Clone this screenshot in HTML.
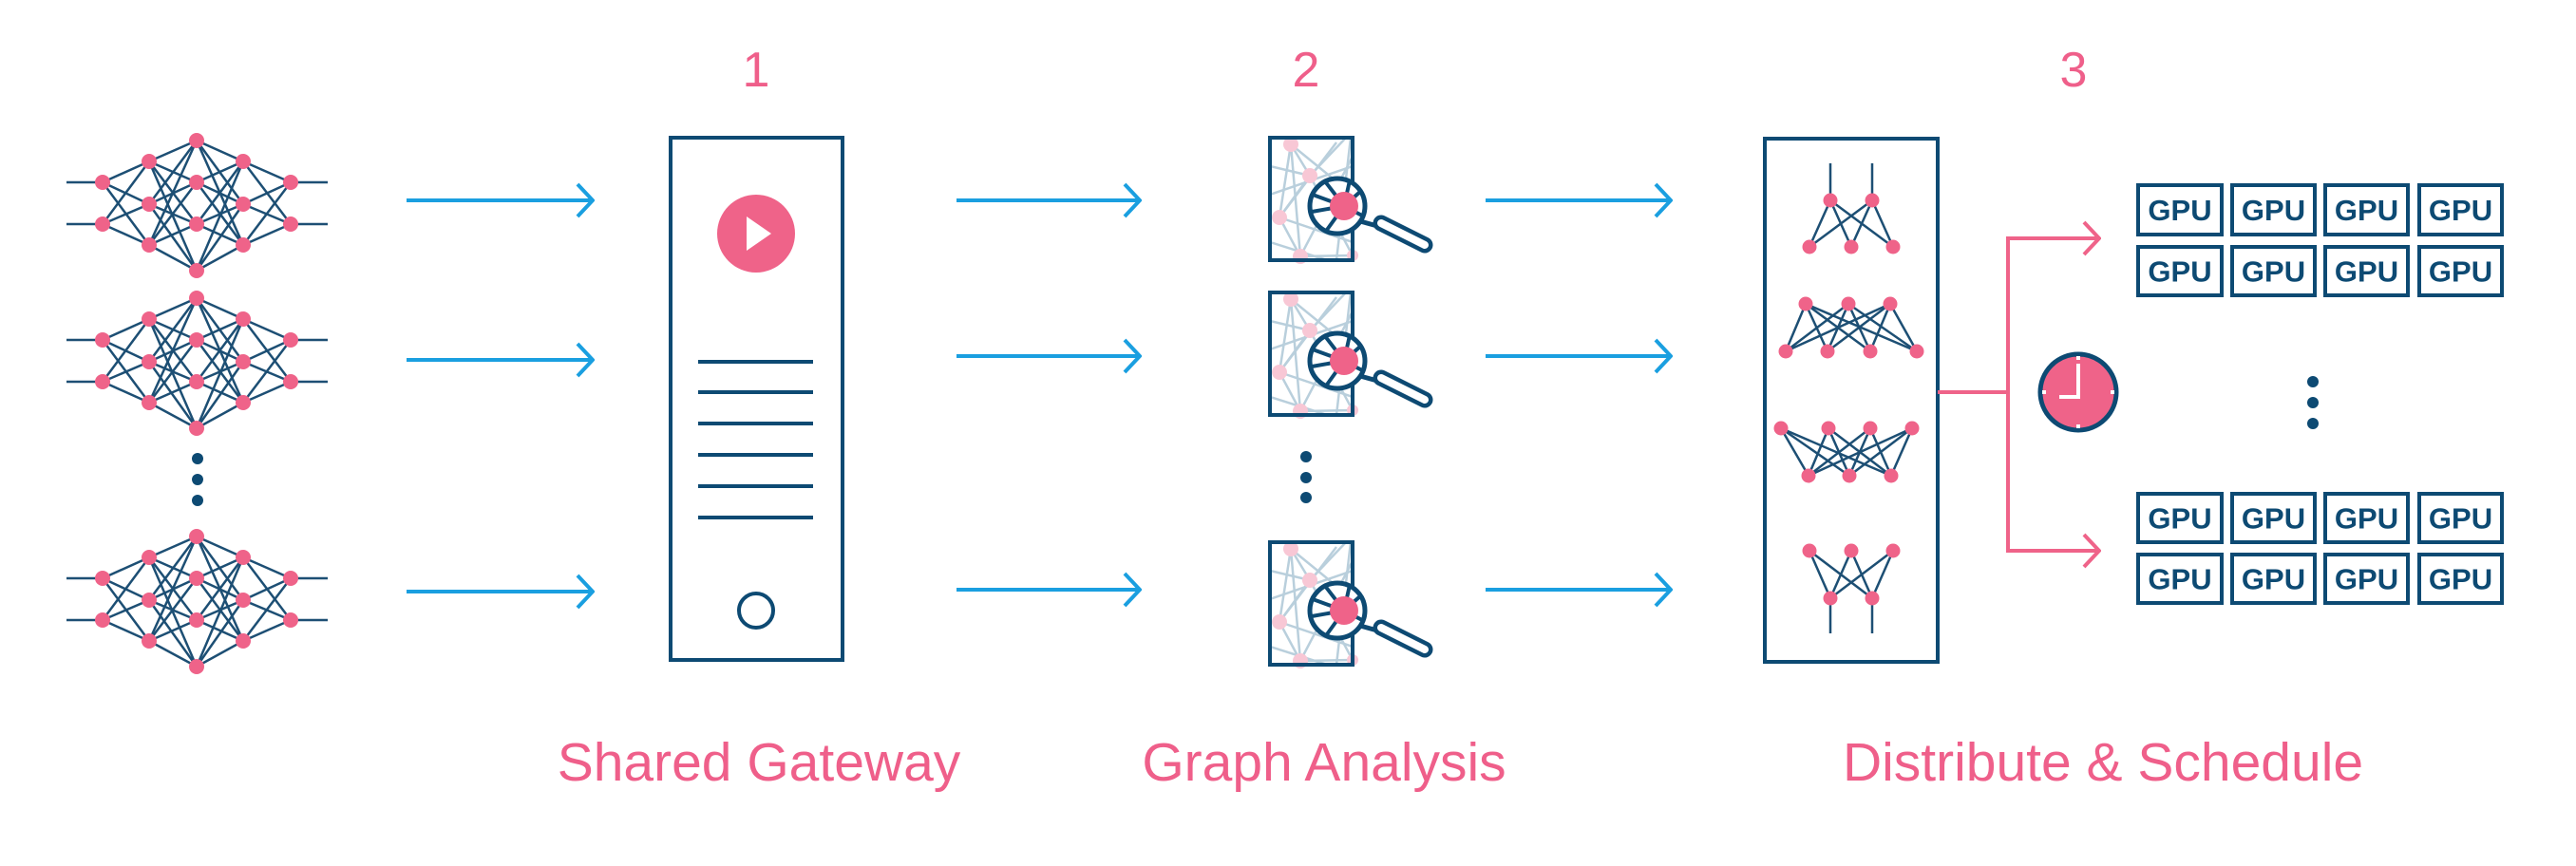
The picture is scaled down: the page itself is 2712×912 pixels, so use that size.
<!DOCTYPE html>
<html><head><meta charset="utf-8"><style>
html,body{margin:0;padding:0;background:#fff;}
svg{display:block}
text{font-family:"Liberation Sans",sans-serif;}
</style></head><body>
<svg id="s" width="2712" height="912" viewBox="0 0 2712 912" xmlns="http://www.w3.org/2000/svg">
<defs>
<marker id="ab" viewBox="0 0 20 40" refX="18" refY="20" markerWidth="20" markerHeight="40" markerUnits="userSpaceOnUse" orient="auto"><path d="M2 3 L18 20 L2 37" fill="none" stroke="#1a9fe0" stroke-width="4"/></marker>
<marker id="ap" viewBox="0 0 20 40" refX="18" refY="20" markerWidth="20" markerHeight="40" markerUnits="userSpaceOnUse" orient="auto"><path d="M2 3 L18 20 L2 37" fill="none" stroke="#ef6389" stroke-width="4"/></marker>
<clipPath id="cp"><rect x="0" y="0" width="87" height="129"/></clipPath>
<g id="icon">
<g clip-path="url(#cp)" stroke="#b9cfdc" stroke-width="2.5">
<line x1="22" y1="7" x2="10" y2="84"/><line x1="22" y1="7" x2="42" y2="40"/><line x1="22" y1="7" x2="87" y2="60"/><line x1="22" y1="7" x2="32" y2="125"/>
<line x1="42" y1="40" x2="0" y2="30"/><line x1="42" y1="40" x2="87" y2="124"/><line x1="42" y1="40" x2="10" y2="84"/><line x1="42" y1="40" x2="80" y2="0"/>
<line x1="10" y1="84" x2="87" y2="110"/><line x1="10" y1="84" x2="32" y2="125"/><line x1="10" y1="84" x2="70" y2="5"/><line x1="0" y1="60" x2="87" y2="30"/>
<line x1="32" y1="125" x2="87" y2="20"/><line x1="32" y1="125" x2="87" y2="124"/><line x1="0" y1="110" x2="60" y2="129"/><line x1="85" y1="0" x2="70" y2="129"/>
</g>
<g fill="#f8c7d5"><circle cx="22" cy="7" r="8"/><circle cx="42" cy="40" r="8"/><circle cx="10" cy="84" r="8"/><circle cx="32" cy="125" r="8"/><circle cx="87" cy="124" r="6"/></g>
<rect x="0" y="0" width="87" height="129" fill="none" stroke="#0d4a73" stroke-width="4"/>
<circle cx="71" cy="72" r="29" fill="#fff" stroke="#0d4a73" stroke-width="5"/>
<g stroke="#0d4a73" stroke-width="4"><line x1="78" y1="72" x2="45" y2="60"/><line x1="78" y1="72" x2="58" y2="46"/><line x1="78" y1="72" x2="84" y2="45"/><line x1="78" y1="72" x2="96" y2="56"/><line x1="78" y1="72" x2="44" y2="78"/><line x1="78" y1="72" x2="60" y2="97"/><line x1="78" y1="72" x2="97" y2="82"/></g>
<circle cx="78" cy="72" r="15" fill="#ef6389"/>
<line x1="95" y1="88" x2="113" y2="93" stroke="#0d4a73" stroke-width="5"/>
<line x1="117" y1="90" x2="163" y2="113" stroke="#0d4a73" stroke-width="17" stroke-linecap="round"/>
<line x1="117" y1="90" x2="163" y2="113" stroke="#fff" stroke-width="8" stroke-linecap="round"/>
</g>
</defs>
<g id="nets"></g>
<g fill="#0d4a73"><circle cx="208" cy="483" r="6"/><circle cx="208" cy="505" r="6"/><circle cx="208" cy="527" r="6"/></g>
<g stroke="#1a9fe0" stroke-width="4" marker-end="url(#ab)">
<line x1="428" y1="211" x2="624" y2="211"/><line x1="428" y1="379" x2="624" y2="379"/><line x1="428" y1="623" x2="624" y2="623"/>
<line x1="1007" y1="211" x2="1200" y2="211"/><line x1="1007" y1="375" x2="1200" y2="375"/><line x1="1007" y1="621" x2="1200" y2="621"/>
<line x1="1564" y1="211" x2="1759" y2="211"/><line x1="1564" y1="375" x2="1759" y2="375"/><line x1="1564" y1="621" x2="1759" y2="621"/>
</g>
<text x="796" y="91" font-size="52" fill="#ef5f8a" text-anchor="middle">1</text>
<text x="1375" y="91" font-size="52" fill="#ef5f8a" text-anchor="middle">2</text>
<text x="2183" y="91" font-size="52" fill="#ef5f8a" text-anchor="middle">3</text>
<rect x="706" y="145" width="181" height="550" fill="none" stroke="#0d4a73" stroke-width="4"/>
<circle cx="796" cy="246" r="41" fill="#ef6389"/>
<path d="M786 228 L812 246 L786 264Z" fill="#fff"/>
<g stroke="#0d4a73" stroke-width="4"><line x1="735" y1="381" x2="856" y2="381"/><line x1="735" y1="413" x2="856" y2="413"/><line x1="735" y1="446" x2="856" y2="446"/><line x1="735" y1="479" x2="856" y2="479"/><line x1="735" y1="512" x2="856" y2="512"/><line x1="735" y1="545" x2="856" y2="545"/></g>
<circle cx="796" cy="643" r="18" fill="none" stroke="#0d4a73" stroke-width="4"/>
<use href="#icon" x="1337" y="145"/>
<use href="#icon" x="1337" y="308"/>
<use href="#icon" x="1337" y="571"/>
<g fill="#0d4a73"><circle cx="1375" cy="481" r="6"/><circle cx="1375" cy="503" r="6"/><circle cx="1375" cy="524" r="6"/></g>
<rect x="1858" y="146" width="182" height="551" fill="none" stroke="#0d4a73" stroke-width="4"/>
<g id="subs"></g>
<g stroke="#ef6389" stroke-width="4" fill="none">
<line x1="2040" y1="413" x2="2114" y2="413"/>
<line x1="2114" y1="251" x2="2114" y2="580"/>
<line x1="2112" y1="251" x2="2210" y2="251" marker-end="url(#ap)"/>
<line x1="2112" y1="580" x2="2210" y2="580" marker-end="url(#ap)"/>
</g>
<circle cx="2188" cy="413" r="40" fill="#ef6389" stroke="#0d4a73" stroke-width="5"/>
<g stroke="#fff" stroke-width="4"><line x1="2188" y1="383" x2="2188" y2="418"/><line x1="2168" y1="418" x2="2190" y2="418"/><line x1="2188" y1="375" x2="2188" y2="379"/><line x1="2188" y1="447" x2="2188" y2="451"/><line x1="2150" y1="413" x2="2154" y2="413"/><line x1="2222" y1="413" x2="2226" y2="413"/></g>
<g id="gpus"></g>
<g fill="#0d4a73"><circle cx="2435" cy="402" r="6"/><circle cx="2435" cy="424" r="6"/><circle cx="2435" cy="446" r="6"/></g>
<text x="799" y="822" font-size="57" fill="#ef5f8a" text-anchor="middle">Shared Gateway</text>
<text x="1394" y="822" font-size="57" fill="#ef5f8a" text-anchor="middle">Graph Analysis</text>
<text x="2214" y="822" font-size="57" fill="#ef5f8a" text-anchor="middle">Distribute &amp; Schedule</text>
</svg>
<script>
var NS="http://www.w3.org/2000/svg";
function el(p,t,a){var e=document.createElementNS(NS,t);for(var k in a)e.setAttribute(k,a[k]);p.appendChild(e);return e;}
var nets=document.getElementById("nets");
[148,314,565].forEach(function(t){
 var cols=[[108,[44,88]],[157,[22,67,110]],[207,[0,44,88,137]],[256,[22,67,110]],[306,[44,88]]];
 var g=el(nets,"g",{stroke:"#1d4f74","stroke-width":"2.5"});
 [44,88].forEach(function(o){el(g,"line",{x1:70,y1:t+o,x2:108,y2:t+o});el(g,"line",{x1:306,y1:t+o,x2:345,y2:t+o});});
 for(var i=0;i<4;i++){cols[i][1].forEach(function(a){cols[i+1][1].forEach(function(b){el(g,"line",{x1:cols[i][0],y1:t+a,x2:cols[i+1][0],y2:t+b});});});}
 var f=el(nets,"g",{fill:"#ef6389"});
 cols.forEach(function(c){c[1].forEach(function(o){el(f,"circle",{cx:c[0],cy:t+o,r:8});});});
});
var subs=document.getElementById("subs");
function sub(top,ty,bot,by,lines){
 var g=el(subs,"g",{stroke:"#1d4f74","stroke-width":"2.5"});
 top.forEach(function(a){bot.forEach(function(b){el(g,"line",{x1:a,y1:ty,x2:b,y2:by});});});
 (lines||[]).forEach(function(l){el(g,"line",l);});
 var f=el(subs,"g",{fill:"#ef6389"});
 top.forEach(function(x){el(f,"circle",{cx:x,cy:ty,r:7.5});});
 bot.forEach(function(x){el(f,"circle",{cx:x,cy:by,r:7.5});});
}
sub([1927,1971],211,[1905,1949,1993],260,[{x1:1927,y1:172,x2:1927,y2:211},{x1:1971,y1:172,x2:1971,y2:211}]);
sub([1901,1946,1990],320,[1880,1924,1969,2018],370);
sub([1875,1925,1969,2013],451,[1904,1947,1991],501);
sub([1905,1949,1993],580,[1927,1971],630,[{x1:1927,y1:630,x2:1927,y2:667},{x1:1971,y1:630,x2:1971,y2:667}]);
var gp=document.getElementById("gpus");
[[195,247],[260,311],[520,571],[584,635]].forEach(function(r){
 [[2251,2339],[2350,2437],[2448,2535],[2547,2634]].forEach(function(c){
  el(gp,"rect",{x:c[0],y:r[0],width:c[1]-c[0],height:r[1]-r[0],fill:"#fff",stroke:"#0d4a73","stroke-width":"4"});
  var t=el(gp,"text",{x:(c[0]+c[1])/2,y:(r[0]+r[1])/2+11,"font-size":"31","text-anchor":"middle",fill:"#0d4a73","font-weight":"bold","font-family":"Liberation Sans, sans-serif"});
  t.textContent="GPU";
 });
});
</script>
</body></html>
